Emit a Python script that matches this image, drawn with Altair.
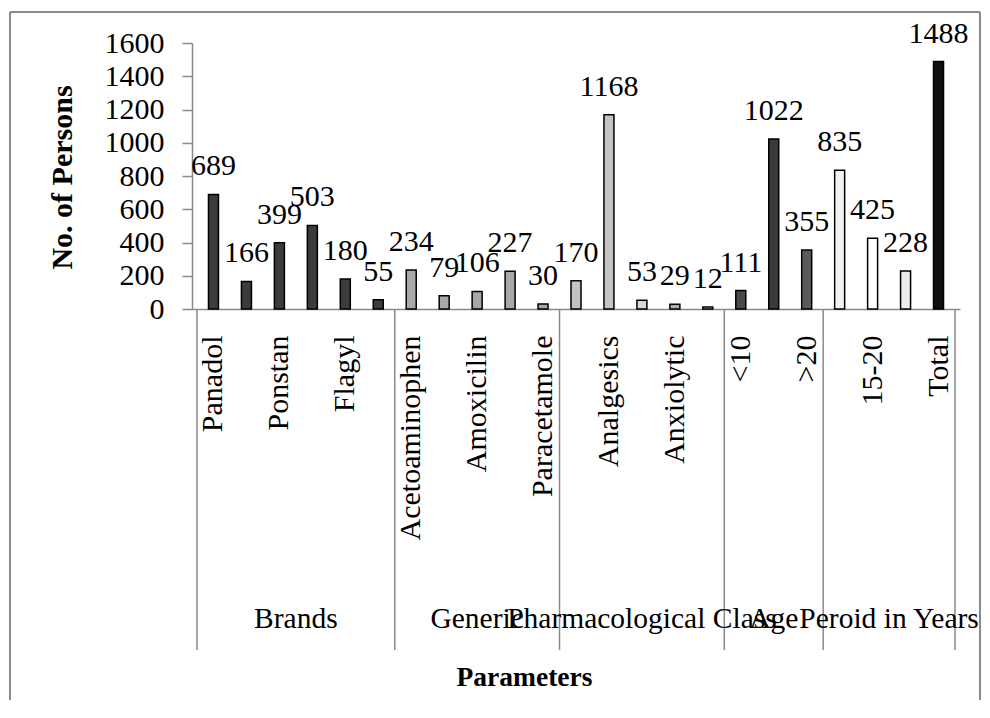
import altair as alt
import numpy as np
import pandas as pd

# ---- data ----
labels = ["Panadol", "", "Ponstan", "", "Flagyl", "",
          "Acetoaminophen", "", "Amoxicilin", "", "Paracetamole",
          "", "Analgesics", "", "Anxiolytic", "",
          "<10", "", ">20",
          "", "15-20", "", "Total"]
values = [689, 166, 399, 503, 180, 55,
          234, 79, 106, 227, 30,
          170, 1168, 53, 29, 12,
          111, 1022, 355,
          835, 425, 228, 1488]
groups = ["Brands", "Generic", "Pharmacological Class", "Age", "Peroid in Years"]
group_sizes = [6, 5, 5, 3, 4]
fills = ["#3c3c3c", "#3c3c3c", "#3c3c3c", "#3c3c3c", "#3c3c3c", "#3c3c3c",
         "#a8a8a8", "#a8a8a8", "#a8a8a8", "#a8a8a8", "#a8a8a8",
         "#c4c4c4", "#c4c4c4", "#d8d8d8", "#b0b0b0", "#e0e0e0",
         "#4a4a4a", "#3a3a3a", "#5a5a5a",
         "#f2f2f2", "#ffffff", "#ededed", "#101010"]

FONT = "Liberation Serif"
GRAY = "#8a8a8a"

bars_df = pd.DataFrame({"idx": list(range(len(values))), "label": labels,
                        "value": values, "fill": fills})
sizes = np.array(group_sizes)
starts = np.concatenate([[0], np.cumsum(sizes)[:-1]])
grp_df = pd.DataFrame({"group": groups, "center": starts + (sizes - 1) / 2.0})
bounds_df = pd.DataFrame({"b": np.concatenate([starts, [sizes.sum()]]) - 0.5})
one = pd.DataFrame({"k": [0]})

x_scale = alt.Scale(domain=[-0.5, len(values) - 0.5], nice=False, zero=False)
x_axis = alt.Axis(title="Parameters", labels=False, ticks=False, grid=False,
                  domainColor=GRAY, domainWidth=1.5,
                  titleFont=FONT, titleFontSize=27.5, titleFontWeight="bold",
                  titleColor="black", titleX=332, titleY=376, titleAlign="center",
                  titleBaseline="alphabetic", titleAngle=0)


def X(field):
    return alt.X(f"{field}:Q", scale=x_scale, axis=x_axis)


y_enc = alt.Y("value:Q", scale=alt.Scale(domain=[0, 1600], nice=False),
              axis=alt.Axis(values=list(range(0, 1601, 200)), format="d",
                            title="No. of Persons",
                            grid=False, domainColor=GRAY, domainWidth=1.5,
                            tickColor=GRAY, tickSize=10, tickWidth=1.5,
                            labelFont=FONT, labelFontSize=30, labelColor="black",
                            labelPadding=18, labelOverlap=False,
                            titleFont=FONT, titleFontSize=30, titleFontWeight="bold",
                            titleColor="black", titleAngle=270, titleX=-130, titleY=134,
                            titleAlign="center", titleBaseline="middle"))

bars = alt.Chart(bars_df).mark_bar(size=10, stroke="black", strokeWidth=1.5).encode(
    x=X("idx"), y=y_enc, fill=alt.Fill("fill:N", scale=None))

value_text = alt.Chart(bars_df).mark_text(font=FONT, fontSize=30, baseline="alphabetic",
                                          dy=-19, color="black").encode(
    x=X("idx"), y=y_enc, text="value:Q")

cat_text = alt.Chart(bars_df).transform_filter("datum.label != ''").mark_text(
    font=FONT, fontSize=30, angle=270, align="right", baseline="middle",
    color="black", dx=1.5).encode(
    x=X("idx"), y=alt.value(294), text="label:N")

group_rules = alt.Chart(bounds_df).mark_rule(color=GRAY, strokeWidth=1.5).encode(
    x=X("b"), y=alt.value(266), y2=alt.value(607))

group_text = alt.Chart(grp_df).mark_text(font=FONT, fontSize=29.5, baseline="alphabetic",
                                         color="black").encode(
    x=X("center"), y=alt.value(585), text="group:N")

frame_left = alt.Chart(one).mark_rule(color=GRAY, strokeWidth=2).encode(
    x=alt.value(-182), y=alt.value(-31), y2=alt.value(680))
frame_top = alt.Chart(one).mark_rule(color=GRAY, strokeWidth=2).encode(
    x=alt.value(-182), x2=alt.value(788), y=alt.value(-31))
frame_right = alt.Chart(one).mark_rule(color=GRAY, strokeWidth=2).encode(
    x=alt.value(788), y=alt.value(-31), y2=alt.value(680))

chart = alt.layer(frame_left, frame_top, frame_right, group_rules, bars, value_text,
                  cat_text, group_text).properties(
    width=768, height=266,
    autosize=alt.AutoSizeParams(type="none"),
    padding={"left": 184, "top": 35, "right": 22, "bottom": 391},
    background="white",
).configure_view(stroke=None)

chart.save("out.html", embed_options={"renderer": "svg", "actions": False})
